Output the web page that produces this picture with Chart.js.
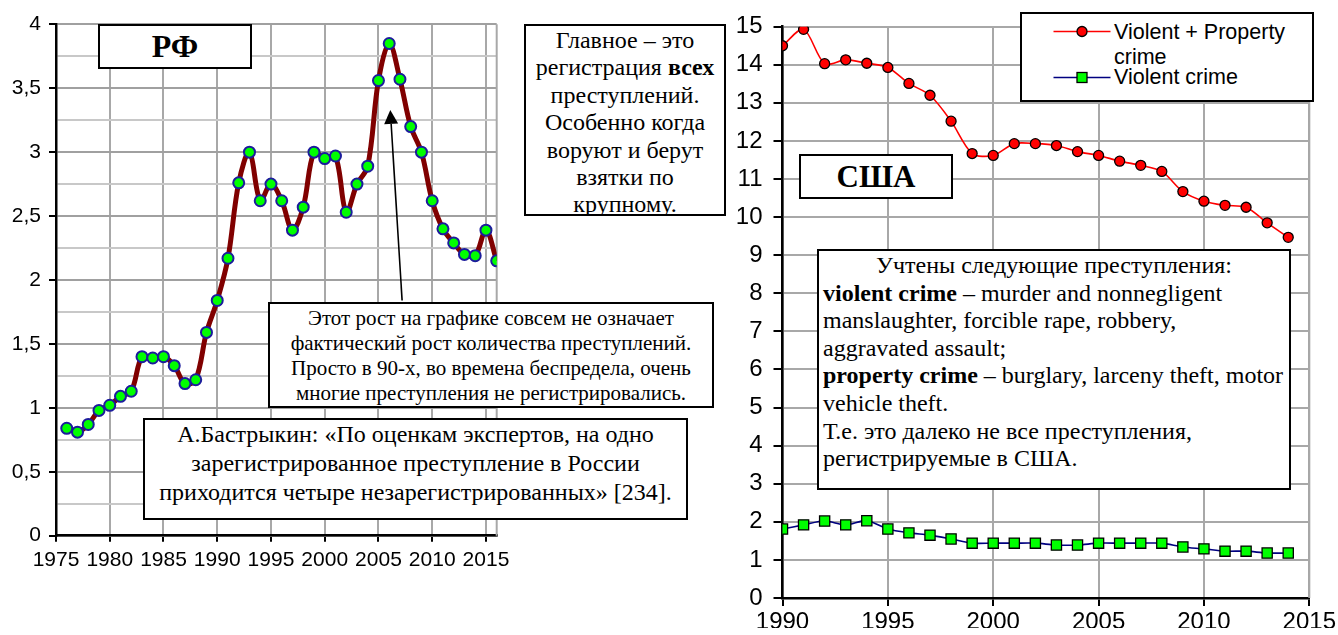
<!DOCTYPE html>
<html><head><meta charset="utf-8">
<script src="https://cdn.jsdelivr.net/npm/chart.js@4"></script>
<style>
html,body{margin:0;padding:0;background:#fff;}
body{width:1338px;height:635px;overflow:hidden;position:relative;}
canvas{position:absolute;left:0;top:0;}
.box{position:absolute;border:2px solid #000;background:#fff;box-sizing:border-box;font-family:"Liberation Serif","Times New Roman",serif;color:#000;overflow:hidden;white-space:nowrap;}
.lg{position:absolute;font-family:"Liberation Sans",Arial,sans-serif;font-size:21.5px;color:#000;line-height:24px;white-space:nowrap;}
</style></head><body>
<canvas id="rf" width="1338" height="635"></canvas>
<canvas id="us" width="1338" height="635"></canvas>

<div class="box" style="left:98px;top:24px;width:154px;height:45px;display:flex;align-items:center;justify-content:center;font-weight:bold;font-size:32px;">РФ</div>
<div class="box" style="left:799px;top:154px;width:154px;height:45px;display:flex;align-items:center;justify-content:center;font-weight:bold;font-size:31px;">США</div>

<div class="box" style="left:524px;top:24px;width:202px;height:192px;text-align:center;font-size:24px;line-height:27.4px;padding-top:1px;">
Главное – это<br>регистрация <b>всех</b><br>преступлений.<br>Особенно когда<br>воруют и берут<br>взятки по<br>крупному.</div>

<div class="box" style="left:817px;top:249px;width:474px;height:241px;font-size:24px;line-height:27.6px;padding:1px 4px 0 4px;">
<div style="text-align:center">Учтены следующие преступления:</div>
<b>violent crime</b> – murder and nonnegligent<br>manslaughter, forcible rape, robbery,<br>aggravated assault;<br><b>property crime</b> – burglary, larceny theft, motor<br>vehicle theft.<br>Т.е. это далеко не все преступления,<br>регистрируемые в США.</div>

<div class="box" style="left:268px;top:302px;width:446px;height:106px;text-align:center;font-size:21px;line-height:25px;padding-top:1.5px;">
Этот рост на графике совсем не означает<br>фактический рост количества преступлений.<br>Просто в 90-х, во времена беспредела, очень<br>многие преступления не регистрировались.</div>

<div class="box" style="left:143px;top:418px;width:545px;height:102px;text-align:center;font-size:24px;line-height:29.2px;padding-top:0px;">
А.Бастрыкин: «По оценкам экспертов, на одно<br>зарегистрированное преступление в России<br>приходится четыре незарегистрированных» [234].</div>

<div class="box" style="left:1020px;top:12px;width:294px;height:90px;"></div>
<svg style="position:absolute;left:0;top:0;" width="1338" height="635">
  <line x1="1053.5" y1="31.5" x2="1110.5" y2="31.5" stroke="#ff0000" stroke-width="1.6"/>
  <circle cx="1082" cy="31.5" r="5" fill="#ff0000" stroke="#000" stroke-width="1.3"/>
  <line x1="1053.5" y1="77.5" x2="1110.5" y2="77.5" stroke="#000080" stroke-width="1.6"/>
  <rect x="1077" y="72.5" width="10" height="10" fill="#00ff00" stroke="#000" stroke-width="1.3"/>
</svg>
<div class="lg" style="left:1114px;top:19.5px;">Violent + Property</div>
<div class="lg" style="left:1114px;top:45px;">crime</div>
<div class="lg" style="left:1114px;top:65px;">Violent crime</div>

<script>
// ---- Data: Russia (RF) ----
const rfYears = [1976,1977,1978,1979,1980,1981,1982,1983,1984,1985,1986,1987,1988,1989,1990,1991,1992,1993,1994,1995,1996,1997,1998,1999,2000,2001,2002,2003,2004,2005,2006,2007,2008,2009,2010,2011,2012,2013,2014,2015,2016];
const rfValues = [0.84,0.81,0.87,0.98,1.02,1.09,1.13,1.40,1.39,1.40,1.33,1.19,1.22,1.59,1.84,2.17,2.76,3.00,2.62,2.75,2.62,2.39,2.57,3.00,2.95,2.97,2.53,2.75,2.89,3.56,3.85,3.57,3.20,3.00,2.62,2.40,2.29,2.20,2.19,2.39,2.15];
const rfXTicks = [1975,1980,1985,1990,1995,2000,2005,2010,2015];
const rfYTicks = [0,0.25,0.5,0.75,1,1.25,1.5,1.75,2,2.25,2.5,2.75,3,3.25,3.5,3.75,4];
const rfArrowFrom = [2007.2, 1.84];
const rfArrowTo = [2006.1, 3.33];

// ---- Data: USA ----
const usYears = [1990,1991,1992,1993,1994,1995,1996,1997,1998,1999,2000,2001,2002,2003,2004,2005,2006,2007,2008,2009,2010,2011,2012,2013,2014];
const usTotal = [14.50,14.93,14.03,14.13,14.04,13.93,13.51,13.20,12.52,11.67,11.62,11.93,11.93,11.88,11.72,11.62,11.47,11.36,11.20,10.67,10.42,10.31,10.26,9.85,9.47];
const usViolent = [1.81,1.92,2.02,1.92,2.03,1.81,1.71,1.65,1.55,1.44,1.44,1.44,1.44,1.39,1.39,1.44,1.44,1.44,1.44,1.34,1.29,1.23,1.23,1.18,1.18];
const usXTicks = [1990,1995,2000,2005,2010,2015];
const usYTicks = [0,1,2,3,4,5,6,7,8,9,10,11,12,13,14,15];
const seriesNames = ['Violent + Property crime','Violent crime'];

const rfFont = {family:'"Liberation Sans", Arial, sans-serif', size:21};
const usFont = {family:'"Liberation Sans", Arial, sans-serif', size:24};
const isMajor = v => Math.abs(v*2 - Math.round(v*2)) < 1e-9;

const framePlugin = {
  id:'frame',
  beforeDatasetsDraw(chart, args, opts){
    const {ctx, chartArea:a} = chart;
    ctx.save();
    ctx.strokeStyle = opts.color || '#a8a8a8';
    ctx.lineWidth = 2;
    ctx.beginPath();
    ctx.moveTo(a.right, a.top); ctx.lineTo(a.right, a.bottom);
    ctx.stroke();
    ctx.restore();
  }
};

const arrowPlugin = {
  id:'arrow',
  afterDatasetsDraw(chart, args, opts){
    if(!opts.from) return;
    const {ctx, scales:{x,y}} = chart;
    const x1 = x.getPixelForValue(opts.from[0]), y1 = y.getPixelForValue(opts.from[1]);
    const x2 = x.getPixelForValue(opts.to[0]), y2 = y.getPixelForValue(opts.to[1]);
    const ang = Math.atan2(y2-y1, x2-x1);
    const hl = 14, hw = 7;
    ctx.save();
    ctx.strokeStyle = '#000'; ctx.fillStyle = '#000'; ctx.lineWidth = 1.6;
    ctx.beginPath(); ctx.moveTo(x1,y1);
    ctx.lineTo(x2 - Math.cos(ang)*hl, y2 - Math.sin(ang)*hl); ctx.stroke();
    ctx.beginPath();
    ctx.moveTo(x2,y2);
    ctx.lineTo(x2 - Math.cos(ang)*hl - Math.sin(ang)*hw, y2 - Math.sin(ang)*hl + Math.cos(ang)*hw);
    ctx.lineTo(x2 - Math.cos(ang)*hl + Math.sin(ang)*hw, y2 - Math.sin(ang)*hl - Math.cos(ang)*hw);
    ctx.closePath(); ctx.fill();
    ctx.restore();
  }
};

// ---- Left chart (RF) ----
new Chart(document.getElementById('rf'), {
  type:'line',
  data:{datasets:[{
    label:'РФ',
    data: rfYears.map((yr,i)=>({x:yr, y:rfValues[i]})),
    borderColor:'#800000', borderWidth:5, tension:0.35,
    pointRadius:5.5, pointBackgroundColor:'#00ff00', pointBorderColor:'#1c1c9c', pointBorderWidth:2,
    fill:false
  }]},
  options:{
    responsive:false, animation:false, events:[],
    layout:{padding:{left:0, top:24.3, right:841.3, bottom:59.3}},
    plugins:{legend:{display:false}, tooltip:{enabled:false}, arrow:{from:rfArrowFrom, to:rfArrowTo}, frame:{color:'#a8a8a8'}},
    scales:{
      x:{type:'linear', min:1975, max:2016,
        afterBuildTicks: s => { s.ticks = rfXTicks.map(v=>({value:v})); },
        afterFit: s => { s.height = 40; },
        ticks:{font:rfFont, color:'#000', maxRotation:0, autoSkip:false, padding:6, callback:v=>String(v)},
        grid:{color:'#a8a8a8', lineWidth:2, tickColor:'#000', tickLength:6, tickWidth:2},
        border:{color:'#000', width:2.5}
      },
      y:{type:'linear', min:0, max:4,
        afterBuildTicks: s => { s.ticks = rfYTicks.map(v=>({value:v})); },
        afterFit: s => { s.width = 56; },
        ticks:{font:rfFont, color:'#000', padding:8, autoSkip:false,
          callback: v => isMajor(v) ? String(v).replace('.', ',') : ''},
        grid:{lineWidth:2, tickLength:7, tickWidth:2,
          color: c => (c.tick && isMajor(c.tick.value)) ? '#a0a0a0' : '#c8c8c8',
          tickColor: c => (c.tick && isMajor(c.tick.value)) ? '#000' : 'rgba(0,0,0,0)'},
        border:{color:'#000', width:2.5}
      }
    }
  },
  plugins:[framePlugin, arrowPlugin]
});

// ---- Right chart (USA) ----
new Chart(document.getElementById('us'), {
  type:'line',
  data:{datasets:[
    {label:seriesNames[0], data: usYears.map((yr,i)=>({x:yr, y:usTotal[i]})),
     borderColor:'#ff0000', borderWidth:1.6, tension:0.3,
     pointRadius:5, pointBackgroundColor:'#ff0000', pointBorderColor:'#000', pointBorderWidth:1.3, fill:false},
    {label:seriesNames[1], data: usYears.map((yr,i)=>({x:yr, y:usViolent[i]})),
     borderColor:'#000080', borderWidth:1.6, tension:0.3,
     pointStyle:'rect', pointRadius:7.2, pointBackgroundColor:'#00ff00', pointBorderColor:'#000', pointBorderWidth:1.3, fill:false}
  ]},
  options:{
    responsive:false, animation:false, events:[],
    layout:{padding:{left:722.5, top:26.7, right:27.5, bottom:7}},
    plugins:{legend:{display:false}, tooltip:{enabled:false}, frame:{color:'#a8a8a8'}},
    scales:{
      x:{type:'linear', min:1990, max:2015,
        afterBuildTicks: s => { s.ticks = usXTicks.map(v=>({value:v})); },
        afterFit: s => { s.height = 30; },
        ticks:{font:usFont, color:'#000', maxRotation:0, autoSkip:false, padding:2, callback:v=>String(v)},
        grid:{color:'#a8a8a8', lineWidth:2, tickColor:'#000', tickLength:8, tickWidth:2},
        border:{color:'#000', width:2.5}
      },
      y:{type:'linear', min:0, max:15,
        afterBuildTicks: s => { s.ticks = usYTicks.map(v=>({value:v})); },
        afterFit: s => { s.width = 60; },
        ticks:{font:usFont, color:'#000', padding:11, autoSkip:false, callback:v=>String(v)},
        grid:{color:'#a8a8a8', lineWidth:2, tickColor:'#000', tickLength:9, tickWidth:2},
        border:{color:'#000', width:2.5}
      }
    }
  },
  plugins:[framePlugin]
});
</script>
</body></html>
